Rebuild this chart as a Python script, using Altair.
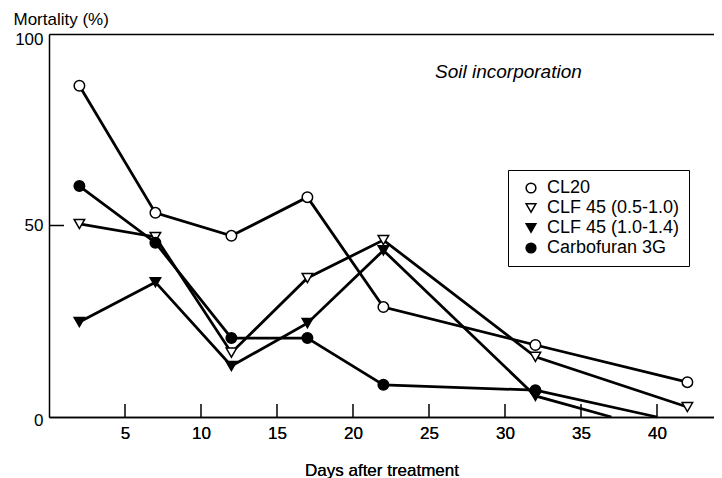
import altair as alt
import pandas as pd

series_names = ["CL20", "CLF 45 (0.5-1.0)", "CLF 45 (1.0-1.4)", "Carbofuran 3G"]

cl20_days = [2, 7, 12, 17, 22, 32, 42]
cl20_vals = [86.5, 53.3, 47.3, 57.4, 28.7, 18.8, 9.1]

clf_low_days = [2, 7, 12, 17, 22, 32, 42]
clf_low_vals = [50.4, 47.0, 16.8, 36.3, 46.2, 15.7, 2.6]

clf_high_days = [2, 7, 12, 17, 22, 32, 37]
clf_high_vals = [24.8, 35.2, 13.3, 24.5, 43.5, 5.5, 0.0]

carbo_days = [2, 7, 12, 17, 22, 32, 40]
carbo_vals = [60.3, 45.5, 20.6, 20.6, 8.4, 7.0, 0.0]

x_tick_values = [5, 10, 15, 20, 25, 30, 35, 40]
y_tick_values = [0, 50, 100]
y_inner_ticks = [50]

rows = []
for name, ds, vs in zip(series_names,
                        [cl20_days, clf_low_days, clf_high_days, carbo_days],
                        [cl20_vals, clf_low_vals, clf_high_vals, carbo_vals]):
    for d, v in zip(ds, vs):
        rows.append({"series": name, "day": d, "value": v})
df = pd.DataFrame(rows)
pts = df[df["value"] > 0]

FONT = "Liberation Sans"
W, H = 665, 383

xscale = alt.Scale(domain=[0, 43.75], nice=False, zero=False)
yscale = alt.Scale(domain=[0, 100], nice=False)

legend = alt.Legend(
    title=None, orient="none", legendX=459, legendY=136,
    strokeColor="black", padding=9, cornerRadius=0,
    labelFont=FONT, labelFontSize=18, labelColor="black",
    symbolSize=95, symbolStrokeWidth=1.5,
    rowPadding=2, labelOffset=7, symbolOffset=5,
)

x_axis = alt.Axis(values=x_tick_values, ticks=False, tickSize=0, labelPadding=8,
                  domainColor="black", domainWidth=1.5, grid=False,
                  title="Days after treatment", titleFont=FONT, titleFontSize=17,
                  titleFontWeight="normal", titleBaseline="alphabetic", titleY=58,
                  labelFont=FONT, labelFontSize=17, labelColor="black")
y_axis = alt.Axis(values=y_tick_values, ticks=False, tickSize=0, labelPadding=6,
                  domainColor="black", domainWidth=1.5, grid=False,
                  labelOffset={"expr": "datum.value == 100 ? 5 : (datum.value == 0 ? 3 : 0)"},
                  title="Mortality (%)", titleFont=FONT, titleFontSize=17,
                  titleFontWeight="normal", titleAngle=0, titleAlign="left",
                  titleBaseline="alphabetic", titleX=-36, titleY=-10,
                  labelFont=FONT, labelFontSize=17, labelColor="black")

lines = alt.Chart(df).mark_line(color="black", strokeWidth=2.8).encode(
    x=alt.X("day:Q", scale=xscale, axis=x_axis),
    y=alt.Y("value:Q", scale=yscale, axis=y_axis),
    detail="series:N",
)

points = alt.Chart(pts).mark_point(filled=True, strokeWidth=1.5,
                                   size=110, opacity=1).encode(
    x=alt.X("day:Q", scale=xscale, axis=x_axis),
    y=alt.Y("value:Q", scale=yscale, axis=y_axis),
    shape=alt.Shape("series:N", scale=alt.Scale(
        domain=series_names,
        range=["circle", "triangle-down", "triangle-down", "circle"]), legend=legend),
    fill=alt.Fill("series:N", scale=alt.Scale(
        domain=series_names, range=["white", "white", "black", "black"]), legend=legend),
    stroke=alt.Stroke("series:N", scale=alt.Scale(
        domain=series_names, range=["black", "black", "black", "black"]), legend=legend),
)

xticks_df = pd.DataFrame({"t": x_tick_values})
xticks = alt.Chart(xticks_df).mark_rule(color="black", strokeWidth=1.5).encode(
    x=alt.X("t:Q", scale=xscale,
            axis=alt.Axis(orient="top", labels=False, ticks=False, title=None,
                          domainColor="black", domainWidth=1.5, grid=False)),
    y=alt.value(H),
    y2=alt.value(H - 13),
)

yticks_df = pd.DataFrame({"v": y_inner_ticks})
yticks = alt.Chart(yticks_df).mark_rule(color="black", strokeWidth=1.5).encode(
    y=alt.Y("v:Q", scale=yscale, axis=y_axis),
    x=alt.value(0),
    x2=alt.value(15),
)

note_df = pd.DataFrame({"label": ["Soil incorporation"]})
note = alt.Chart(note_df).mark_text(font=FONT, fontSize=19, fontStyle="italic",
                                    align="left", baseline="middle", color="black").encode(
    text="label:N", x=alt.value(386), y=alt.value(38))

chart = alt.layer(lines, xticks, yticks, points, note).resolve_axis(
    x="independent"
).properties(
    width=W, height=H,
    autosize=alt.AutoSizeParams(type="none"),
    padding={"left": 41, "top": 26, "right": 0, "bottom": 64},
).configure_view(stroke=None).configure(background="white")

chart.save("out.html", embed_options={"renderer": "svg", "actions": False})
